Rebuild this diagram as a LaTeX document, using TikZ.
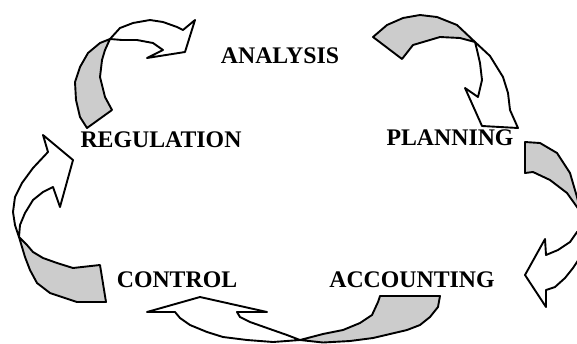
\documentclass[tikz,border=0pt]{standalone}
\usepackage{fontspec}
\setmainfont{Liberation Serif}
\usepackage{tikz}

\definecolor{ribbon}{RGB}{204,204,204}

\begin{document}
\begin{tikzpicture}[x=0.5pt, y=-0.5pt, line width=0.95pt, line join=round,
    stage/.style={font=\bfseries\fontsize{11.9}{14}\selectfont, inner sep=0pt},
    back/.style={fill=ribbon, draw=black},
    front/.style={fill=white, draw=black}]
  \useasboundingbox (0,0) rectangle (577,343);
  \clip (0,0) rectangle (577,343);

  % Etapas del ciclo
  \node[stage] (analysis)   at (280,56)  {ANALYSIS};
  \node[stage] (regulation) at (161,140) {REGULATION};
  \node[stage] (planning)   at (450,138) {PLANNING};
  \node[stage] (control)    at (177,280) {CONTROL};
  \node[stage] (accounting) at (412,280) {ACCOUNTING};

  % Flecha hacia analysis
  \draw[back] (87,128) -- (80,117) -- (76,100) -- (75,82) -- (80,67) -- (88,53) -- (100,43) -- (110,39)
    -- (105,50) -- (102,60) -- (100,77) -- (105,97) -- (112,110) -- cycle;
  \draw[front] (110,39) -- (120,28) -- (133,23) -- (150,20) -- (163,22) -- (177,27) -- (183,30) -- (195,20)
    -- (185,52) -- (147,58) -- (163,50) -- (153,43) -- (137,40) -- (122,40) -- cycle;

  % Flecha hacia planning
  \draw[back] (373,37) -- (387,25) -- (403,18) -- (420,15) -- (437,17) -- (457,25) -- (475,42)
    -- (460,38) -- (440,37) -- (413,45) -- (402,59) -- cycle;
  \draw[front] (475,42) -- (490,56) -- (503,77) -- (508,93) -- (510,110) -- (518,128) -- (482,126)
    -- (465,88) -- (478,97) -- (482,80) -- (480,63) -- (477,50) -- cycle;

  % Flecha hacia accounting
  \draw[back] (525,142) -- (540,143) -- (557,153) -- (570,173) -- (577,197) -- (583,220) -- (590,225)
    -- (577,207) -- (567,193) -- (550,180) -- (533,172) -- (525,173) -- cycle;
  \draw[front] (590,225) -- (577,232) -- (570,242) -- (558,250) -- (546,255) -- (545,239) -- (525,275)
    -- (546,307) -- (546,290) -- (555,287) -- (565,278) -- (573,268) -- (577,262) -- (590,240) -- cycle;

  % Flecha hacia control
  \draw[back] (380,296) -- (440,296) -- (438,307) -- (430,317) -- (420,325) -- (407,330) -- (390,334)
    -- (373,338) -- (350,341) -- (323,342.5) -- (300,340) -- (323,334) -- (343,330) -- (360,323)
    -- (372,315) -- (378,302) -- cycle;
  \draw[front] (300,340) -- (287,335) -- (267,328) -- (250,322) -- (240,317) -- (237,312) -- (267,312)
    -- (200,297) -- (147,312) -- (175,312) -- (180,318) -- (190,325) -- (207,332) -- (223,337)
    -- (247,340) -- (273,342) -- cycle;

  % Flecha hacia regulation
  \draw[back] (100,265) -- (73,268) -- (57,263) -- (43,258) -- (33,252) -- (27,245) -- (19,237)
    -- (25,257) -- (30,270) -- (37,283) -- (50,293) -- (77,302) -- (106,302) -- cycle;
  \draw[front] (19,237) -- (15,225) -- (13,212) -- (15,197) -- (22,183) -- (33,168) -- (48,152)
    -- (43,135) -- (73,160) -- (60,207) -- (53,187) -- (43,192) -- (33,200) -- (25,213) -- (20,225) -- cycle;
\end{tikzpicture}
\end{document}
